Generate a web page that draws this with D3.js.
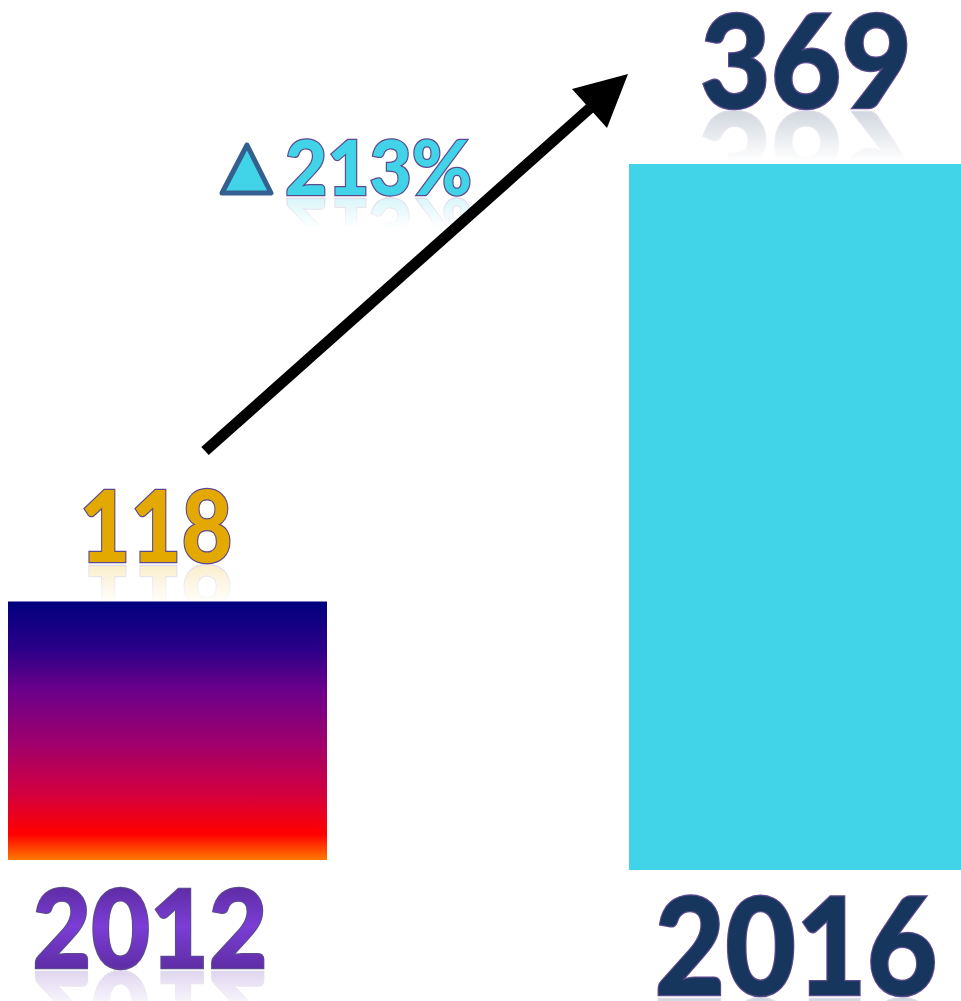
<!DOCTYPE html>
<html>
<head>
<meta charset="utf-8">
<script src="https://cdn.jsdelivr.net/npm/d3@7"></script>
<style>
  html, body { margin: 0; padding: 0; background: #fff; }
  svg { display: block; }
  text { font-family: Lato, "Open Sans", sans-serif; font-weight: 900; }
</style>
</head>
<body>
<svg id="chart" width="961" height="1001"></svg>
<script>
// data
const years = ["2012", "2016"];
const values = [118, 369];
const growthLabel = "213%";

const svg = d3.select("#chart");
const defs = svg.append("defs");

// layout
const baselines = [860, 870];          // bars don't share a floor in the original
const x = d3.scaleOrdinal().domain(years).range([8, 629]);
const barW = d3.scaleOrdinal().domain(years).range([319, 332]);
// heights read off the picture are not proportional to zero -> fitted domain
const h = d3.scaleLinear().domain([-27, 369]).range([0, 706]);

// gradient for 2012 bar
const g1 = defs.append("linearGradient").attr("id", "barGrad")
    .attr("x1", 0).attr("y1", 0).attr("x2", 0).attr("y2", 1);
[[0, "#00007e"], [0.18, "#2a0088"], [0.34, "#6a008a"], [0.55, "#a0006c"],
 [0.74, "#d20040"], [0.9, "#ff0000"], [1, "#ff7a00"]]
  .forEach(([o, c]) => g1.append("stop").attr("offset", o).attr("stop-color", c));

// text gradient for "2012"
const g2 = defs.append("linearGradient").attr("id", "txtGrad")
    .attr("x1", 0).attr("y1", 0).attr("x2", 0).attr("y2", 1);
[[0, "#4c2184"], [0.5, "#7b3dd6"], [1, "#50258c"]]
  .forEach(([o, c]) => g2.append("stop").attr("offset", o).attr("stop-color", c));

// fade mask for reflections (flipped, so gradient runs bottom->top)
const fg = defs.append("linearGradient").attr("id", "fadeGrad")
    .attr("x1", 0).attr("y1", 1).attr("x2", 0).attr("y2", 0);
fg.append("stop").attr("offset", 0).attr("stop-color", "#fff").attr("stop-opacity", 0.3);
fg.append("stop").attr("offset", 0.5).attr("stop-color", "#fff").attr("stop-opacity", 0);
const mask = defs.append("mask").attr("id", "fade").attr("maskContentUnits", "objectBoundingBox");
mask.append("rect").attr("width", 1).attr("height", 1).attr("fill", "url(#fadeGrad)");

// bars
svg.selectAll("rect.bar")
  .data(years)
  .enter().append("rect")
  .attr("class", "bar")
  .attr("x", d => x(d))
  .attr("width", d => barW(d))
  .attr("y", (d, i) => baselines[i] - h(values[i]))
  .attr("height", (d, i) => h(values[i]))
  .attr("fill", (d, i) => i === 0 ? "url(#barGrad)" : "#41d4e8");

// label + mirrored reflection (the reflection is a <use> of the same text)
let nLabel = 0;
function label(txt, cx, base, size, width, fill, anchor) {
  const id = "lbl" + (nLabel++);
  svg.append("use")
    .attr("href", "#" + id)
    .attr("transform", `translate(0,${2 * base + 4}) scale(1,-1)`)
    .attr("mask", "url(#fade)");
  svg.append("text")
    .attr("id", id)
    .attr("x", cx).attr("y", base)
    .attr("text-anchor", anchor || "middle")
    .attr("font-size", size)
    .attr("textLength", width)
    .attr("lengthAdjust", "spacingAndGlyphs")
    .attr("fill", fill)
    .attr("stroke", "#5d4a8e")
    .attr("stroke-width", 2.5)
    .style("paint-order", "stroke")
    .text(txt);
}

// value labels
label(String(values[0]), 156, 562, 100, 153, "#e4a900");
label(String(values[1]), 806, 108, 130, 212, "#17365d");
// year labels
label(years[0], 150, 968, 108, 235, "url(#txtGrad)");
label(years[1], 796, 995, 136, 283, "#17365d");
// growth
label(growthLabel, 285, 195, 76, 187, "#41d4e8", "start");

// delta triangle
svg.append("path")
  .attr("d", d3.line()([[247, 145], [271, 193], [222, 193]]) + "Z")
  .attr("fill", "#41d4e8")
  .attr("stroke", "#34608f")
  .attr("stroke-width", 5)
  .attr("stroke-linejoin", "round");

// arrow
const tip = [628, 74], start = [205, 451];
svg.append("line")
  .attr("x1", start[0]).attr("y1", start[1])
  .attr("x2", 598).attr("y2", 101)
  .attr("stroke", "#000").attr("stroke-width", 11);
svg.append("path")
  .attr("d", d3.line()([tip, [572, 89], [607, 128]]) + "Z")
  .attr("fill", "#000");
</script>
</body>
</html>
